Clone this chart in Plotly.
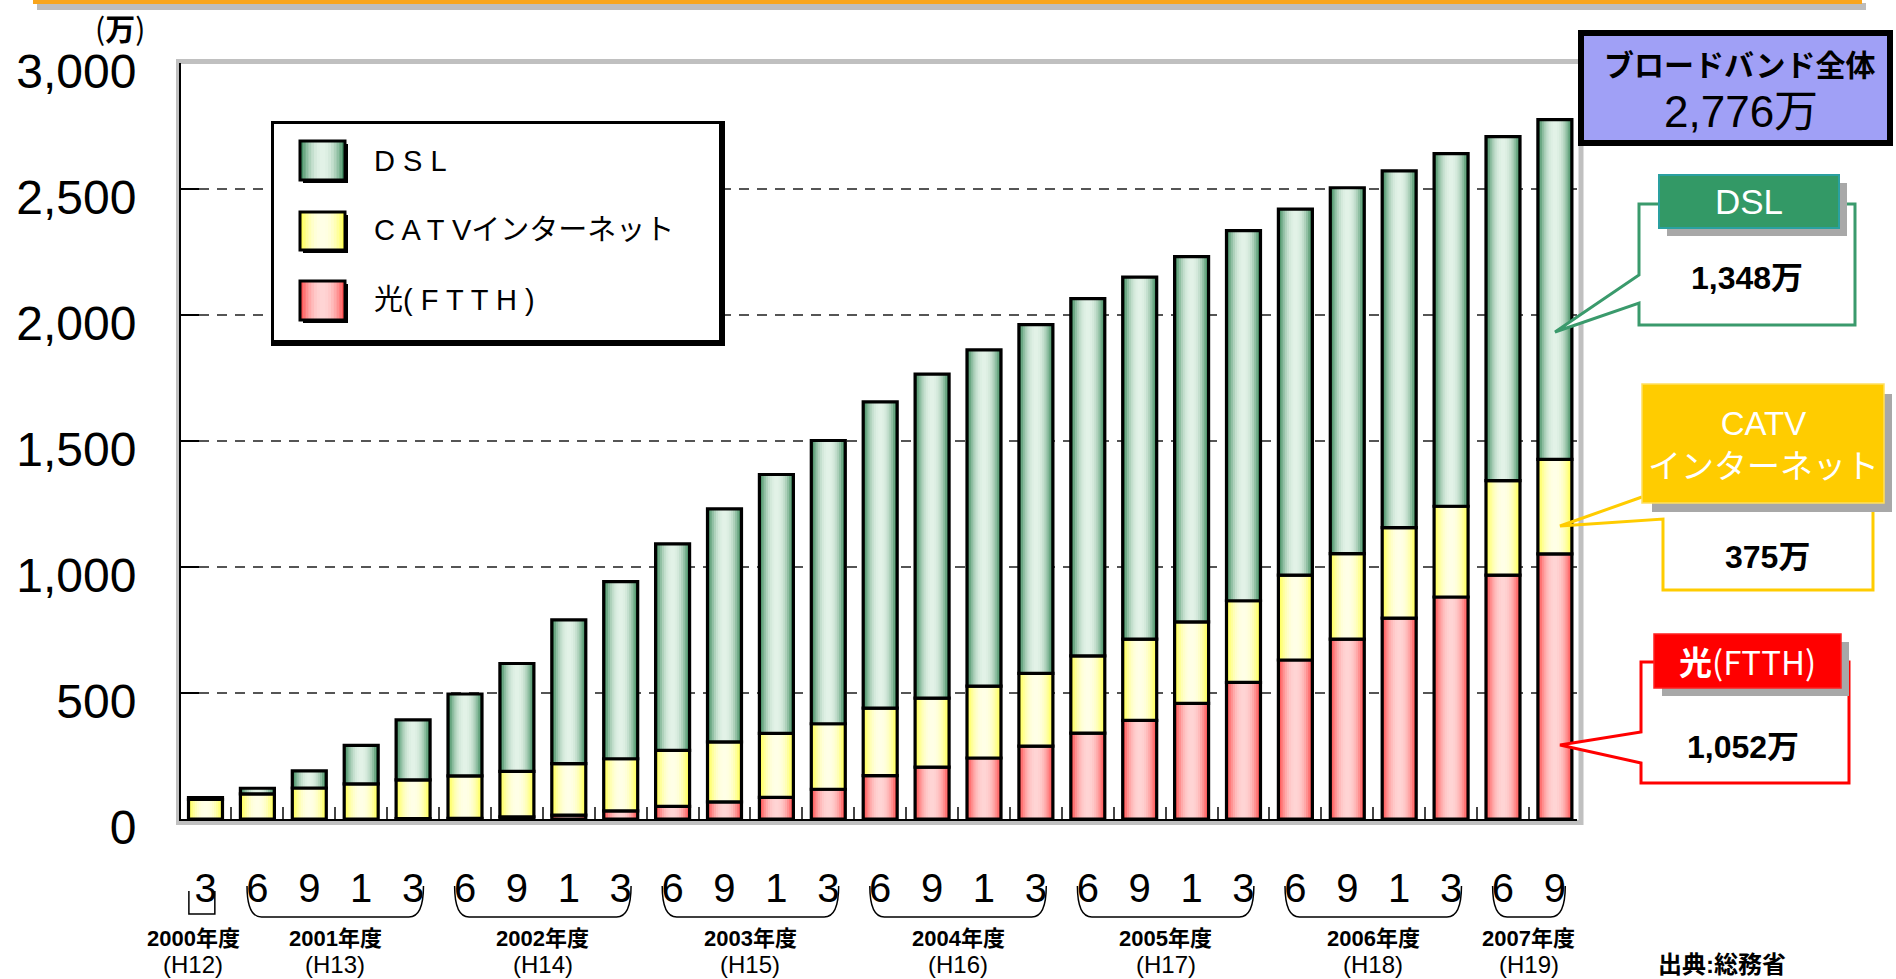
import plotly.graph_objects as go

# ---------------- data ----------------
months = ["3", "6", "9", "1", "3", "6", "9", "1", "3", "6", "9", "1", "3", "6",
          "9", "1", "3", "6", "9", "1", "3", "6", "9", "1", "3", "6", "9"]
fiscal_year = [2000] + [2001] * 4 + [2002] * 4 + [2003] * 4 + [2004] * 4 + [2005] * 4 + [2006] * 4 + [2007] * 2
fy_labels = {2000: "2000年度", 2001: "2001年度", 2002: "2002年度", 2003: "2003年度",
             2004: "2004年度", 2005: "2005年度", 2006: "2006年度", 2007: "2007年度"}
heisei_labels = {2000: "(H12)", 2001: "(H13)", 2002: "(H14)", 2003: "(H15)",
                 2004: "(H16)", 2005: "(H17)", 2006: "(H18)", 2007: "(H19)"}

ftth = [0, 0, 0, 0, 2, 3, 9, 15, 32, 50, 68, 86, 118, 172, 206, 242, 289, 341, 391, 459, 542, 631, 714, 797, 881, 968, 1052]
catv = [78, 100, 123, 139, 153, 168, 180, 205, 207, 222, 238, 254, 260, 268, 274, 285, 289, 306, 323, 323, 324, 337, 339, 359, 360, 375, 375]
dsl = [7, 22, 68, 153, 238, 325, 428, 570, 703, 820, 925, 1027, 1124, 1215, 1285, 1335, 1384, 1418, 1436, 1450, 1469, 1452, 1452, 1416, 1399, 1365, 1348]

series_names = ["D S L", "C A T Vインターネット", "光( F T T H )"]
total_title = "ブロードバンド全体"
total_value = "2,776万"
callout_titles = ["DSL", "CATV<br>インターネット", "<b>光</b>(FTTH)"]
callout_values = ["1,348万", "375万", "1,052万"]
unit_label = "(<b>万</b>)"
source_label = "<b>出典:総務省</b>"

# ---------------- geometry helpers ----------------
W_FIG, H_FIG = 1896, 979
L, R, T, B = 181, 319, 63, 160
PW = W_FIG - L - R
PH = H_FIG - T - B

def px(x):
    return (x - L) / PW

def py(y):
    return (H_FIG - B - y) / PH

SANS = "Liberation Sans, Arial, Noto Sans CJK JP, sans-serif"
NARROW = "Liberation Sans Narrow, Arial Narrow, Liberation Sans, Noto Sans CJK JP, sans-serif"
CJK = "Noto Sans CJK JP, Liberation Sans, sans-serif"

shapes = []
annotations = []

def rect(x0, y0, x1, y1, fill=None, line=None, lw=0, layer="above"):
    shapes.append(dict(type="rect", xref="paper", yref="paper",
                       x0=px(x0), x1=px(x1), y0=py(y1), y1=py(y0),
                       fillcolor=fill or "rgba(0,0,0,0)",
                       line=dict(color=line or "rgba(0,0,0,0)", width=lw), layer=layer))

def path(points, fill=None, line=None, lw=0, closed=True, layer="above"):
    d = "M " + " L ".join(f"{px(x):.5f},{py(y):.5f}" for x, y in points) + (" Z" if closed else "")
    shapes.append(dict(type="path", xref="paper", yref="paper", path=d,
                       fillcolor=fill or "rgba(0,0,0,0)",
                       line=dict(color=line or "rgba(0,0,0,0)", width=lw), layer=layer))

def ann(x, y, text, size, color="black", family=SANS, xanchor="center", yanchor="middle"):
    annotations.append(dict(x=px(x), y=py(y), xref="paper", yref="paper", text=text,
                            showarrow=False, xanchor=xanchor, yanchor=yanchor,
                            font=dict(size=size, color=color, family=family)))

def mix(c1, c2, t):
    return "rgb(%d,%d,%d)" % tuple(round(a + (b - a) * t) for a, b in zip(c1, c2))

# ---------------- bars ----------------
xs = list(range(len(months)))
base_ftth = [0] * len(xs)
base_catv = ftth[:]
base_dsl = [a + b for a, b in zip(ftth, catv)]

colors = {
    "dsl": ((40, 125, 75), (226, 242, 231)),
    "catv": ((255, 255, 60), (255, 255, 230)),
    "ftth": ((255, 60, 60), (255, 212, 212)),
}

fig = go.Figure()
N = 8
BW = 0.655
for key, vals, base in [("ftth", ftth, base_ftth), ("catv", catv, base_catv), ("dsl", dsl, base_dsl)]:
    edge, center = colors[key]
    for k in range(N):
        f = 1 - k / N
        t = 1 - (f - 0.5 / N) ** 2.2
        fig.add_trace(go.Bar(x=xs, y=vals, base=base, width=BW * f,
                             marker=dict(color=mix(edge, center, t), line=dict(width=0)),
                             showlegend=False, hoverinfo="skip"))
    fig.add_trace(go.Bar(x=xs, y=vals, base=base, width=BW,
                         marker=dict(color="rgba(0,0,0,0)", line=dict(color="black", width=3.2)),
                         showlegend=False, hoverinfo="skip"))

# ---------------- plot frame / decorations ----------------
rect(178.5, 61.5, 1581, 822.5, line="#c0c0c0", lw=5, layer="below")
# orange line at top
rect(37, 3, 1866, 10, fill="#bdbdbd")
rect(33, -12, 1862, 4, fill="#F8A51C")

# y unit
ann(120, 27, unit_label, 30, family=CJK)

# ---------------- legend ----------------
rect(271, 121, 725, 346, fill="black")
rect(274, 124, 719, 340, fill="white")
legend_rows = [("dsl", 141, 180, 161), ("catv", 212, 250, 230), ("ftth", 281, 320, 300)]
for (key, y0, y1, yc), name in zip(legend_rows, series_names):
    edge, center = colors[key]
    x0, x1 = 300, 345
    rect(x0 + 3, y0 + 3, x1 + 3, y1 + 3, fill="black")
    cx = (x0 + x1) / 2
    for k in range(N):
        f = 1 - k / N
        t = 1 - (f - 0.5 / N) ** 2.2
        hw = (x1 - x0) / 2 * f
        rect(cx - hw, y0, cx + hw, y1, fill=mix(edge, center, t))
    rect(x0, y0, x1, y1, line="black", lw=3)
    ann(372, yc, name, 29, family=NARROW, xanchor="left")

# ---------------- x-axis brackets & fiscal years ----------------
groups = {}
for i, fy in enumerate(fiscal_year):
    groups.setdefault(fy, []).append(i)
y_tip, y_bot = py(886), py(917)
for fy, idx in groups.items():
    a, b = idx[0], idx[-1]
    if a == b:
        x0, x1 = a - 0.32, a + 0.18
        d = f"M {x0},{py(891)} L {x0},{py(914)} L {x1},{py(914)} L {x1},{py(891)}"
        lab_x = a - 0.24
    else:
        x0, x1 = a - 0.2, b + 0.2
        dx = 0.28
        d = (f"M {x0},{y_tip} Q {x0},{y_bot} {x0 + dx},{y_bot} "
             f"L {x1 - dx},{y_bot} Q {x1},{y_bot} {x1},{y_tip}")
        lab_x = (a + b) / 2
    shapes.append(dict(type="path", xref="x", yref="paper", path=d,
                       line=dict(color="black", width=1.5)))
    annotations.append(dict(x=lab_x, y=py(939), xref="x", yref="paper", text=f"<b>{fy_labels[fy]}</b>",
                            showarrow=False, xanchor="center", yanchor="middle",
                            font=dict(size=22, family=NARROW, color="black")))
    annotations.append(dict(x=lab_x, y=py(965), xref="x", yref="paper", text=heisei_labels[fy],
                            showarrow=False, xanchor="center", yanchor="middle",
                            font=dict(size=24, family=NARROW, color="black")))

ann(1722, 964, source_label, 24, family=NARROW)

# ---------------- total box ----------------
rect(1581, 33, 1890, 143, fill="#a0a0f6", line="black", lw=6)
ann(1740, 63, f"<b>{total_title}</b>", 30, family=CJK)
ann(1741, 112, total_value, 44, family=SANS)

# ---------------- callouts ----------------
# DSL
path([(1639, 204), (1855, 204), (1855, 325), (1639, 325), (1639, 303), (1555, 332), (1639, 275)],
     fill="white", line="#3a9a6c", lw=3)
rect(1667, 183, 1847, 236, fill="#a8a8a8")
rect(1659, 175, 1839, 228, fill="#339966", line="#2aa0a0", lw=2)
ann(1749, 202, callout_titles[0], 35, color="white")
ann(1747, 278, f"<b>{callout_values[0]}</b>", 32)

# CATV
rect(1663, 505, 1873, 590, fill="white")
path([(1642, 497), (1560, 526), (1663, 519), (1663, 590), (1873, 590), (1873, 505)],
     line="#FFCC00", lw=3, closed=False)
rect(1652, 394, 1892, 512, fill="#a8a8a8")
rect(1642, 384, 1884, 503, fill="#FFCC00", line="#FFE060", lw=1.5)
ann(1763, 445, callout_titles[1], 33, color="white")
ann(1767, 557, f"<b>{callout_values[1]}</b>", 32)

# FTTH
path([(1641, 662), (1849, 662), (1849, 783), (1641, 783), (1641, 763), (1560, 745), (1641, 732)],
     fill="white", line="#FF0000", lw=3)
rect(1662, 642, 1849, 696, fill="#a8a8a8")
rect(1654, 634, 1841, 688, fill="#FF0000", line="#FF2020", lw=1.5)
ann(1747, 661, callout_titles[2], 33, color="white", family=CJK)
ann(1743, 747, f"<b>{callout_values[2]}</b>", 32)

# ---------------- layout ----------------
fig.update_layout(
    width=W_FIG, height=H_FIG,
    margin=dict(l=L, r=R, t=T, b=B, pad=0),
    paper_bgcolor="white", plot_bgcolor="rgba(0,0,0,0)",
    barmode="overlay", showlegend=False,
    shapes=shapes, annotations=annotations,
    xaxis=dict(range=[-0.472, 26.426], tickmode="array", tickvals=xs, ticktext=months,
               ticks="", showgrid=False, zeroline=False,
               showline=True, linecolor="black", linewidth=2,
               tickfont=dict(size=40, family=SANS, color="black"),
               ticklabelstandoff=33,
               minor=dict(tickmode="array", tickvals=[i + 0.5 for i in range(len(xs) - 1)],
                          ticks="inside", ticklen=12, tickcolor="#444", tickwidth=1.5, showgrid=False)),
    yaxis=dict(range=[0, 3000], tickmode="linear", tick0=0, dtick=500, tickformat=",",
               ticks="inside", ticklen=18, tickcolor="black", tickwidth=1.5,
               showline=True, linecolor="black", linewidth=2,
               showgrid=True, gridcolor="#555", gridwidth=1.5, griddash="10px,8px",
               zeroline=False,
               tickfont=dict(size=48, family=SANS, color="black"),
               ticklabelstandoff=33, ticklabelshift=8),
)

fig.write_html("out.html", config={"displayModeBar": False},
               post_script="document.body.style.margin='0';document.body.style.overflow='hidden';")
